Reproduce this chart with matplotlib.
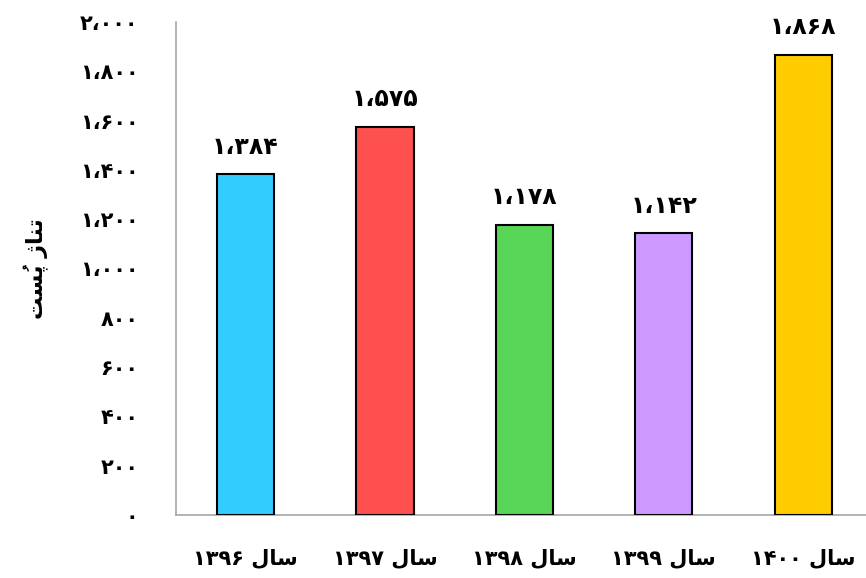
import matplotlib.pyplot as plt
import numpy as np

plt.rcParams['font.family'] = ['DejaVu Sans']

years = ["1396", "1397", "1398", "1399", "1400"]
values = [1384, 1575, 1178, 1142, 1868]
colors = ["#33CCFF", "#FF5050", "#57D658", "#CC99FF", "#FFCC00"]
yticks = [0, 200, 400, 600, 800, 1000, 1200, 1400, 1600, 1800, 2000]

FA_DIGITS = str.maketrans("0123456789", "۰۱۲۳۴۵۶۷۸۹")


def fa_num(n):
    s = f"{n:,}".replace(",", "،")
    return s.translate(FA_DIGITS)


# "سال" in presentation forms
SAL = "\uFEDD\uFE8E\uFEB3"
xlabels = [y.translate(FA_DIGITS) + " " + SAL for y in years]
# "تناژ پُست"
ylabel = "\uFE96\uFEB4\u064F\uFB58 \uFB8A\uFE8E\uFEE8\uFE97"

fig = plt.figure(figsize=(8.66, 5.78), dpi=100)
ax = fig.add_axes([0.203, 0.109, 0.797, 0.853])

x = np.arange(len(values))
bars = ax.bar(x, values, width=0.41, color=colors, edgecolor="black", linewidth=1.5, zorder=3)

for b, v in zip(bars, values):
    ax.annotate(fa_num(v), (b.get_x() + b.get_width() / 2, v), xytext=(0, 11),
                textcoords="offset points", ha="center", va="bottom",
                fontsize=17, fontweight="bold")

ax.set_xlim(-0.5, 4.45)
ax.set_ylim(0, 2000)
ax.set_yticks(yticks)
ax.set_yticklabels([fa_num(t) for t in yticks], fontsize=15, fontweight="bold")
ax.set_xticks(x)
ax.set_xticklabels(xlabels, fontsize=15, fontweight="bold")
ax.tick_params(length=0)
ax.tick_params(axis="y", pad=27)
ax.tick_params(axis="x", pad=24)
ax.set_ylabel(ylabel, fontsize=16, fontweight="bold", labelpad=22)

for s in ["top", "right"]:
    ax.spines[s].set_visible(False)
for s in ["left", "bottom"]:
    ax.spines[s].set_color("#A6A6A6")
    ax.spines[s].set_linewidth(1.2)

fig.savefig("out.png", dpi=100)
